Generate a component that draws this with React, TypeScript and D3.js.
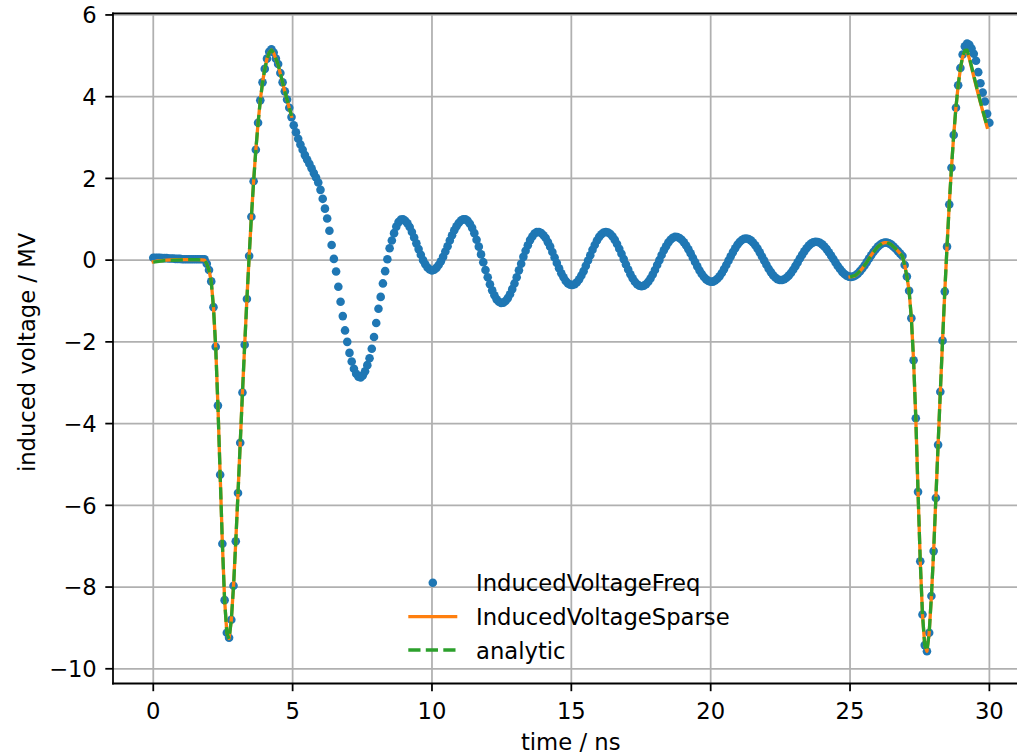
import React from 'react';
import * as d3 from 'd3';

// InducedVoltageFreq: one sample every 0.08 ns starting at t = 0
const sampleStep = 0.08;
const freqVoltage = [
  0.06, 0.06, 0.06, 0.06, 0.05, 0.05, 0.05, 0.04, 0.04, 0.04, // 0.0 ns
  0.03, 0.03, 0.03, 0.02, 0.02, 0.02, 0.02, 0.02, 0.02, 0.02, // 0.8
  0.02, 0.02, 0.02, 0.02, -0.09, -0.24, -0.52, -1.15, -2.12, -3.56, // 1.6
  -5.25, -6.94, -8.32, -9.12, -9.24, -8.8, -7.97, -6.88, -5.7, -4.47, // 2.4
  -3.24, -2.07, -0.95, 0.1, 1.06, 1.93, 2.7, 3.36, 3.91, 4.35, // 3.2
  4.68, 4.93, 5.1, 5.16, 5.08, 4.93, 4.8, 4.58, 4.35, 4.13, // 4.0
  3.93, 3.73, 3.5, 3.3, 3.13, 2.97, 2.83, 2.7, 2.57, 2.46, // 4.8
  2.36, 2.25, 2.13, 2.02, 1.9, 1.72, 1.5, 1.26, 1.02, 0.72, // 5.6
  0.37, 0.03, -0.28, -0.65, -1.02, -1.37, -1.72, -2.0, -2.27, -2.48, // 6.4
  -2.66, -2.78, -2.85, -2.87, -2.82, -2.72, -2.57, -2.4, -2.17, -1.88, // 7.2
  -1.54, -1.19, -0.9, -0.57, -0.27, 0.02, 0.29, 0.48, 0.66, 0.82, // 8.0
  0.93, 0.99, 1.0, 0.96, 0.9, 0.81, 0.69, 0.555, 0.41, 0.27, // 8.8
  0.13, 0.0, -0.1, -0.18, -0.23, -0.25, -0.235, -0.19, -0.12, -0.03, // 9.6
  0.08, 0.21, 0.34, 0.48, 0.61, 0.73, 0.83, 0.91, 0.97, 1.0, // 10.4
  1.0, 0.96, 0.89, 0.79, 0.66, 0.5, 0.33, 0.14, -0.05, -0.24, // 11.2
  -0.42, -0.59, -0.74, -0.86, -0.96, -1.02, -1.05, -1.04, -1.0, -0.93, // 12.0
  -0.835, -0.71, -0.57, -0.42, -0.25, -0.09, 0.08, 0.23, 0.365, 0.49, // 12.8
  0.58, 0.65, 0.685, 0.69, 0.665, 0.61, 0.54, 0.44, 0.33, 0.2, // 13.6
  0.065, -0.07, -0.2, -0.32, -0.42, -0.51, -0.57, -0.6, -0.61, -0.59, // 14.4
  -0.54, -0.47, -0.375, -0.27, -0.14, -0.01, 0.12, 0.255, 0.37, 0.48, // 15.2
  0.57, 0.635, 0.675, 0.69, 0.677, 0.64, 0.58, 0.495, 0.395, 0.28, // 16.0
  0.155, 0.025, -0.105, -0.23, -0.345, -0.445, -0.53, -0.59, -0.627, -0.64, // 16.8
  -0.627, -0.59, -0.53, -0.45, -0.35, -0.24, -0.12, 0.0, 0.125, 0.24, // 17.6
  0.34, 0.43, 0.5, 0.546, 0.568, 0.566, 0.542, 0.497, 0.435, 0.358, // 18.4
  0.268, 0.167, 0.06, -0.047, -0.153, -0.255, -0.34, -0.414, -0.471, -0.51, // 19.2
  -0.528, -0.526, -0.5, -0.457, -0.393, -0.314, -0.22, -0.12, -0.013, 0.092, // 20.0
  0.196, 0.29, 0.375, 0.443, 0.492, 0.522, 0.53, 0.517, 0.484, 0.433, // 20.8
  0.364, 0.282, 0.19, 0.09, -0.012, -0.114, -0.21, -0.293, -0.368, -0.427, // 21.6
  -0.467, -0.487, -0.488, -0.469, -0.433, -0.38, -0.313, -0.234, -0.147, -0.055, // 22.4
  0.039, 0.129, 0.215, 0.291, 0.354, 0.403, 0.435, 0.45, 0.445, 0.424, // 23.2
  0.386, 0.333, 0.27, 0.194, 0.111, 0.026, -0.06, -0.143, -0.219, -0.287, // 24.0
  -0.339, -0.38, -0.404, -0.41, -0.4, -0.372, -0.33, -0.27, -0.205, -0.13, // 24.8
  -0.048, 0.036, 0.12, 0.2, 0.267, 0.33, 0.378, 0.411, 0.428, 0.43, // 25.6
  0.41, 0.38, 0.33, 0.28, 0.22, 0.16, 0.1, -0.12, -0.4, -0.75, // 26.4
  -1.42, -2.45, -3.87, -5.67, -7.37, -8.67, -9.42, -9.57, -9.12, -8.22, // 27.2
  -7.12, -5.82, -4.52, -3.22, -1.97, -0.77, 0.33, 1.36, 2.26, 3.06, // 28.0
  3.73, 4.28, 4.7, 5.03, 5.23, 5.3, 5.27, 5.18, 5.05, 4.88, // 28.8
  4.6, 4.33, 4.1, 3.88, 3.58, 3.36, // 29.6
];

// InducedVoltageSparse, [time ns, voltage MV], two windows
const sparseEarly: [number, number][] = [
  [0, -0.04], [0.16, -0.02], [0.32, -0.01], [0.48, 0], [0.8, 0.01], [1.2, 0.01],
  [1.6, 0.01], [1.84, 0], [1.92, -0.09], [2.0, -0.24], [2.08, -0.52], [2.16, -1.15],
  [2.24, -2.12], [2.32, -3.56], [2.4, -5.25], [2.48, -6.94], [2.56, -8.32], [2.64, -9.12],
  [2.72, -9.26], [2.8, -8.8], [2.88, -7.97], [2.96, -6.88], [3.04, -5.7], [3.12, -4.47],
  [3.2, -3.24], [3.28, -2.07], [3.36, -0.95], [3.44, 0.1], [3.52, 1.06], [3.6, 1.93],
  [3.68, 2.7], [3.76, 3.36], [3.84, 3.91], [3.92, 4.35], [4.0, 4.68], [4.08, 4.93],
  [4.16, 5.08], [4.24, 5.14], [4.32, 5.07], [4.4, 4.92], [4.48, 4.77], [4.56, 4.56],
  [4.64, 4.34], [4.72, 4.12], [4.8, 3.92], [4.88, 3.72], [4.96, 3.52],
];
const sparseLate: [number, number][] = [
  [25.0, -0.41], [25.12, -0.4], [25.2, -0.372], [25.28, -0.33], [25.36, -0.27], [25.44, -0.205],
  [25.52, -0.13], [25.6, -0.048], [25.68, 0.036], [25.76, 0.12], [25.84, 0.2], [25.92, 0.267],
  [26.0, 0.33], [26.08, 0.378], [26.16, 0.411], [26.24, 0.428], [26.32, 0.43], [26.4, 0.41],
  [26.48, 0.38], [26.56, 0.33], [26.64, 0.28], [26.72, 0.22], [26.8, 0.16], [26.88, 0.1],
  [26.96, -0.12], [27.04, -0.4], [27.12, -0.75], [27.2, -1.42], [27.28, -2.45], [27.36, -3.87],
  [27.44, -5.67], [27.52, -7.37], [27.6, -8.67], [27.68, -9.42], [27.76, -9.57], [27.84, -9.12],
  [27.92, -8.22], [28.0, -7.12], [28.08, -5.82], [28.16, -4.52], [28.24, -3.22], [28.32, -1.97],
  [28.4, -0.77], [28.48, 0.33], [28.56, 1.36], [28.64, 2.26], [28.72, 3.06], [28.8, 3.73],
  [28.88, 4.28], [28.96, 4.68], [29.04, 4.97], [29.12, 5.11], [29.2, 5.12], [29.28, 4.93],
  [29.36, 4.71], [29.44, 4.49], [29.52, 4.27], [29.6, 4.06], [29.68, 3.85], [29.76, 3.65],
  [29.84, 3.45], [29.92, 3.25],
];

// analytic, same two windows
const analyticEarly: [number, number][] = [
  [0, -0.05], [0.2, -0.03], [0.4, -0.01], [0.8, 0.0], [1.2, 0.01], [1.6, 0.01],
  [1.84, 0], [1.92, -0.09], [2.0, -0.25], [2.08, -0.53], [2.16, -1.16], [2.24, -2.13],
  [2.32, -3.57], [2.4, -5.26], [2.48, -6.95], [2.56, -8.33], [2.64, -9.13], [2.72, -9.27],
  [2.8, -8.81], [2.88, -7.98], [2.96, -6.89], [3.04, -5.71], [3.12, -4.48], [3.2, -3.25],
  [3.28, -2.08], [3.36, -0.96], [3.44, 0.09], [3.52, 1.05], [3.6, 1.92], [3.68, 2.69],
  [3.76, 3.35], [3.84, 3.9], [3.92, 4.34], [4.0, 4.67], [4.08, 4.92], [4.16, 5.08],
  [4.24, 5.14], [4.32, 5.07], [4.4, 4.93], [4.48, 4.78], [4.56, 4.57], [4.64, 4.35],
  [4.72, 4.13], [4.8, 3.93], [4.88, 3.73], [4.96, 3.53],
];
const analyticLate: [number, number][] = [
  [25.0, -0.41], [25.2, -0.37], [25.4, -0.24], [25.6, -0.05], [25.8, 0.16], [26.0, 0.33],
  [26.16, 0.41], [26.32, 0.43], [26.48, 0.38], [26.64, 0.28], [26.8, 0.16], [26.88, 0.1],
  [26.96, -0.12], [27.04, -0.4], [27.12, -0.75], [27.2, -1.42], [27.28, -2.45], [27.36, -3.87],
  [27.44, -5.67], [27.52, -7.37], [27.6, -8.67], [27.68, -9.42], [27.76, -9.57], [27.84, -9.12],
  [27.92, -8.22], [28.0, -7.12], [28.08, -5.82], [28.16, -4.52], [28.24, -3.22], [28.32, -1.97],
  [28.4, -0.77], [28.48, 0.33], [28.56, 1.36], [28.64, 2.26], [28.72, 3.06], [28.8, 3.73],
  [28.88, 4.28], [28.96, 4.69], [29.04, 4.99], [29.12, 5.13], [29.2, 5.14], [29.28, 4.96],
  [29.36, 4.74], [29.44, 4.52], [29.52, 4.3], [29.6, 4.08], [29.68, 3.87], [29.76, 3.67],
  [29.84, 3.47], [29.92, 3.27],
];

const xTicks = [0, 5, 10, 15, 20, 25, 30];
const yTicks = [-10, -8, -6, -4, -2, 0, 2, 4, 6];
const legendLabels = ['InducedVoltageFreq', 'InducedVoltageSparse', 'analytic'];

const W = 1017;
const H = 753;
const plot = { left: 113, top: 13.3, right: 1028.4, bottom: 683.5 };
const font = '"DejaVu Sans", sans-serif';
const fontSize = 22.7;
const lw = 1.77; // 0.8pt
const tickLen = 7.7;

const C_FREQ = '#1f77b4';
const C_SPARSE = '#ff7f0e';
const C_ANALYTIC = '#2ca02c';

const fmt = (v: number) => (v < 0 ? '\u2212' + Math.abs(v) : String(v));

const App = () => {
  const x = d3.scaleLinear().domain([-1.445, 31.4]).range([plot.left, plot.right]);
  const y = d3.scaleLinear().domain([-10.36, 6.04]).range([plot.bottom, plot.top]);

  const line = d3
    .line<[number, number]>()
    .x((d) => x(d[0]))
    .y((d) => y(d[1]));

  const legendY = [582.7, 616.7, 650];
  const dash = '12.2 5.3';

  return (
    <svg
      width={W}
      height={H}
      viewBox={`0 0 ${W} ${H}`}
      style={{ position: 'absolute', left: 0, top: 0, background: '#fff' }}
      fontFamily={font}
      fontSize={fontSize}
    >
      <defs>
        <clipPath id="plotArea">
          <rect x={plot.left} y={plot.top} width={plot.right - plot.left} height={plot.bottom - plot.top} />
        </clipPath>
      </defs>

      {/* grid */}
      <g stroke="#b0b0b0" strokeWidth={lw}>
        {xTicks.map((t) => (
          <line key={'gx' + t} x1={x(t)} x2={x(t)} y1={plot.top} y2={plot.bottom} />
        ))}
        {yTicks.map((t) => (
          <line key={'gy' + t} x1={plot.left} x2={plot.right} y1={y(t)} y2={y(t)} />
        ))}
      </g>

      <g clipPath="url(#plotArea)">
        {freqVoltage.map((v, i) => (
          <circle key={i} cx={x(i * sampleStep)} cy={y(v)} r={4.3} fill={C_FREQ} />
        ))}
        {[sparseEarly, sparseLate].map((seg, k) => (
          <path
            key={'s' + k}
            d={line(seg) || ''}
            fill="none"
            stroke={C_SPARSE}
            strokeWidth={3.3}
            strokeLinecap="square"
            strokeLinejoin="round"
          />
        ))}
        {[analyticEarly, analyticLate].map((seg, k) => (
          <path
            key={'a' + k}
            d={line(seg) || ''}
            fill="none"
            stroke={C_ANALYTIC}
            strokeWidth={3.3}
            strokeDasharray={dash}
            strokeLinejoin="round"
          />
        ))}
      </g>

      {/* spines */}
      <g stroke="#000" strokeWidth={lw} strokeLinecap="square">
        <line x1={plot.left} x2={plot.left} y1={plot.top} y2={plot.bottom} />
        <line x1={plot.left} x2={plot.right} y1={plot.top} y2={plot.top} />
        <line x1={plot.left} x2={plot.right} y1={plot.bottom} y2={plot.bottom} />
      </g>

      {/* ticks */}
      <g stroke="#000" strokeWidth={lw}>
        {xTicks.map((t) => (
          <line key={'tx' + t} x1={x(t)} x2={x(t)} y1={plot.bottom} y2={plot.bottom + tickLen} />
        ))}
        {yTicks.map((t) => (
          <line key={'ty' + t} x1={plot.left - tickLen} x2={plot.left} y1={y(t)} y2={y(t)} />
        ))}
      </g>
      <g fill="#000">
        {xTicks.map((t) => (
          <text key={'lx' + t} x={x(t)} y={718.5} textAnchor="middle">
            {fmt(t)}
          </text>
        ))}
        {yTicks.map((t) => (
          <text key={'ly' + t} x={plot.left - tickLen - 8.5} y={y(t) + 8.2} textAnchor="end">
            {fmt(t)}
          </text>
        ))}
        <text x={(plot.left + plot.right) / 2} y={749.5} textAnchor="middle">
          time / ns
        </text>
        <text
          transform={`translate(35, ${(plot.top + plot.bottom) / 2 + 4}) rotate(-90)`}
          textAnchor="middle"
        >
          induced voltage / MV
        </text>
      </g>

      {/* legend */}
      <g>
        <circle cx={432.8} cy={legendY[0]} r={4.3} fill={C_FREQ} />
        <line x1={408.3} x2={457.3} y1={legendY[1]} y2={legendY[1]} stroke={C_SPARSE} strokeWidth={3.3} />
        <line
          x1={408.3}
          x2={457.3}
          y1={legendY[2]}
          y2={legendY[2]}
          stroke={C_ANALYTIC}
          strokeWidth={3.3}
          strokeDasharray={dash}
        />
        {legendLabels.map((s, i) => (
          <text key={s} x={476} y={legendY[i] + 8.7} fill="#000">
            {s}
          </text>
        ))}
      </g>
    </svg>
  );
};

export default App;
